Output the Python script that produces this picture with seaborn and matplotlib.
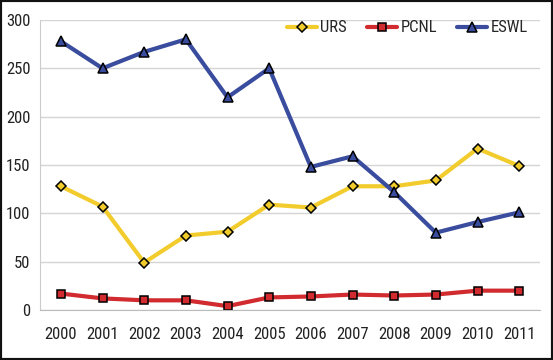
import matplotlib
matplotlib.use("Agg")
import matplotlib.pyplot as plt
import matplotlib.patches as patches
from matplotlib.lines import Line2D
import pandas as pd
import seaborn as sns

sns.set_style("white")
plt.rcParams['font.family'] = ['Liberation Sans Narrow', 'DejaVu Sans Condensed',
                               'Roboto Condensed', 'DejaVu Sans']

years = [2000, 2001, 2002, 2003, 2004, 2005, 2006, 2007, 2008, 2009, 2010, 2011]
urs = [128, 107, 49, 77, 81, 109, 106, 128, 128, 134, 167, 149]
pcnl = [17, 12, 10, 10, 4, 13, 14, 16, 15, 16, 20, 20]
eswl = [278, 250, 267, 280, 220, 250, 148, 159, 122, 80, 91, 101]

series_names = ['URS', 'PCNL', 'ESWL']
colors = {'URS': '#F2CC2C', 'PCNL': '#D12A2F', 'ESWL': '#3A4C9E'}
markers = {'URS': 'D', 'PCNL': 's', 'ESWL': '^'}
msizes = {'URS': 5, 'PCNL': 6, 'ESWL': 7}

df = pd.DataFrame({
    'year': years * 3,
    'value': urs + pcnl + eswl,
    'series': ['URS'] * 12 + ['PCNL'] * 12 + ['ESWL'] * 12,
})

fig = plt.figure(figsize=(5.53, 3.6), dpi=100)
ax = fig.add_axes([40 / 553, 50 / 360, 500 / 553, 290 / 360])

for name in series_names:
    sub = df[df['series'] == name]
    sns.lineplot(data=sub, x='year', y='value', ax=ax, color=colors[name],
                 linewidth=3, marker=markers[name], markersize=msizes[name],
                 markeredgecolor='black', markeredgewidth=1.1, legend=False)

ax.set_xlim(1999.5, 2011.5)
ax.set_ylim(0, 300)
ax.set_yticks(range(0, 301, 50))
ax.set_xticks(years)
ax.set_xticklabels([str(y) for y in years])
ax.set_xticks([y + 0.5 for y in [1999] + years], minor=True)
ax.tick_params(axis='x', which='major', length=0, labelsize=12, pad=12, colors='#222222')
ax.tick_params(axis='x', which='minor', length=5, color='#bbbbbb', direction='out')
ax.tick_params(axis='y', length=4, color='#cccccc', labelsize=12, colors='#222222', pad=3)
ax.yaxis.grid(True, color='#d4d4d4', linewidth=1)
ax.set_axisbelow(True)
ax.set_xlabel('')
ax.set_ylabel('')
for s in ['top', 'right']:
    ax.spines[s].set_visible(False)
ax.spines['left'].set_color('#cccccc')
ax.spines['bottom'].set_color('#bbbbbb')

handles = [Line2D([0], [0], color=colors[n], linewidth=3, marker=markers[n],
                  markersize=msizes[n], markeredgecolor='black', markeredgewidth=1.1)
           for n in series_names]
ax.legend(handles, series_names, loc='upper right', bbox_to_anchor=(1.005, 1.05),
          ncol=3, frameon=False, fontsize=12, handlelength=1.8, columnspacing=1.2,
          handletextpad=0.2)

fig.patches.append(patches.Rectangle((0, 0), 1, 1, transform=fig.transFigure,
                                     fill=False, edgecolor='#111111', linewidth=3))

fig.savefig('out.png', dpi=100)
